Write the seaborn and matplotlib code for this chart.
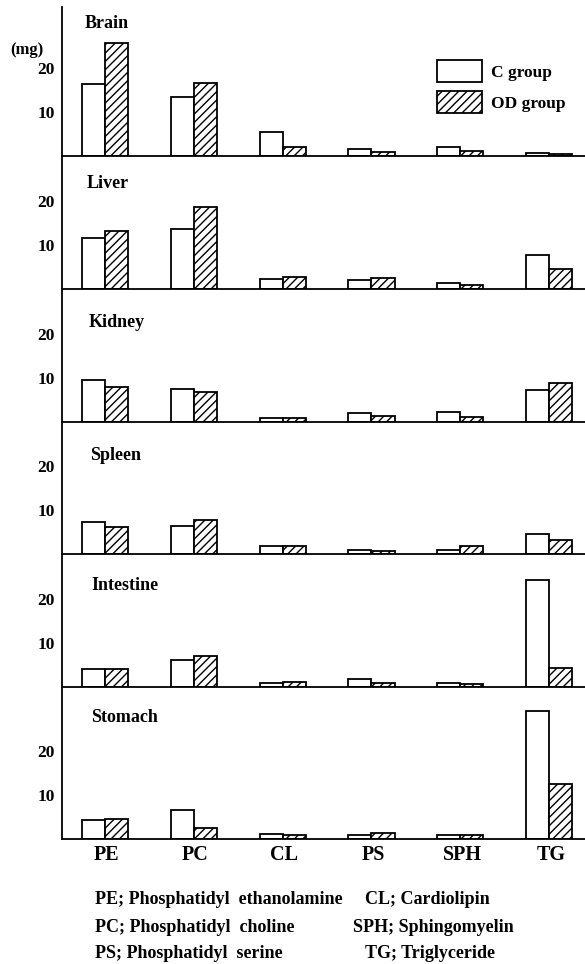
import matplotlib
matplotlib.use("Agg")
import matplotlib.pyplot as plt
from matplotlib.patches import Patch
import seaborn as sns
import pandas as pd

# Lipid classes and groups
lipids = ["PE", "PC", "CL", "PS", "SPH", "TG"]
groups = ["C group", "OD group"]
organs = ["Brain", "Liver", "Kidney", "Spleen", "Intestine", "Stomach"]

# Lipid content (mg) per organ, control vs OD group
brain_c = [16.3, 13.3, 5.5, 1.5, 2.1, 0.7]
brain_od = [25.5, 16.5, 2.0, 0.8, 1.1, 0.5]
liver_c = [11.5, 13.6, 2.2, 2.0, 1.4, 7.7]
liver_od = [13.2, 18.6, 2.8, 2.4, 1.0, 4.5]
kidney_c = [9.5, 7.5, 1.0, 2.1, 2.2, 7.3]
kidney_od = [7.9, 6.9, 0.8, 1.3, 1.1, 8.9]
spleen_c = [7.2, 6.4, 1.8, 0.9, 0.9, 4.5]
spleen_od = [6.0, 7.6, 1.7, 0.6, 1.8, 3.1]
intestine_c = [4.1, 6.0, 0.8, 1.7, 0.9, 24.2]
intestine_od = [4.0, 7.0, 1.2, 0.8, 0.6, 4.4]
stomach_c = [4.4, 6.5, 1.1, 0.9, 1.0, 29.0]
stomach_od = [4.6, 2.5, 0.9, 1.4, 1.0, 12.4]

values = {
    "Brain": (brain_c, brain_od),
    "Liver": (liver_c, liver_od),
    "Kidney": (kidney_c, kidney_od),
    "Spleen": (spleen_c, spleen_od),
    "Intestine": (intestine_c, intestine_od),
    "Stomach": (stomach_c, stomach_od),
}

footnotes = [
    ("PE; Phosphatidyl  ethanolamine", "CL; Cardiolipin"),
    ("PC; Phosphatidyl  choline", "SPH; Sphingomyelin"),
    ("PS; Phosphatidyl  serine", "TG; Triglyceride"),
]

rows = []
for organ in organs:
    c_vals, od_vals = values[organ]
    for lip, cv, ov in zip(lipids, c_vals, od_vals):
        rows.append({"organ": organ, "lipid": lip, "group": groups[0], "value": cv})
        rows.append({"organ": organ, "lipid": lip, "group": groups[1], "value": ov})
df = pd.DataFrame(rows)

sns.set_theme(style="white")
plt.rcParams["font.family"] = ["Liberation Serif", "DejaVu Serif"]
plt.rcParams["font.weight"] = "bold"
plt.rcParams["text.color"] = "black"
plt.rcParams["axes.labelcolor"] = "black"
plt.rcParams["xtick.color"] = "black"
plt.rcParams["ytick.color"] = "black"
plt.rcParams["hatch.linewidth"] = 1.0
plt.rcParams["hatch.color"] = "black"

W, H = 585, 964
fig = plt.figure(figsize=(W / 100, H / 100), dpi=100)
fig.patch.set_facecolor("white")

# panel extents in pixels (top, bottom) and title anchor
panels = [
    ("Brain", 7, 156, 85, 23),
    ("Liver", 156, 289, 87, 183),
    ("Kidney", 289, 422, 89, 323),
    ("Spleen", 422, 554, 90, 455),
    ("Intestine", 554, 687, 91, 586),
    ("Stomach", 687, 839, 91, 718),
]
px_per_mg = 4.42
x_left, x_right = 62, 585
x_lim = (-0.484, 5.405)

for i, (organ, top, bottom, tx, ty) in enumerate(panels):
    ax = fig.add_axes([x_left / W, 1 - bottom / H, (x_right - x_left) / W, (bottom - top) / H])
    sub = df[df.organ == organ]
    sns.barplot(data=sub, x="lipid", y="value", hue="group", order=lipids,
                hue_order=groups, palette=["white", "white"], saturation=1,
                edgecolor="black", linewidth=1.3, width=0.52, errorbar=None,
                legend=False, ax=ax)
    for bar in ax.containers[1]:
        bar.set_hatch("////")
    ax.set_xlim(*x_lim)
    ax.set_ylim(0, (bottom - top) / px_per_mg)
    ax.set_facecolor("none")
    ax.set_xlabel("")
    ax.set_ylabel("")
    ax.set_yticks([10, 20])
    ax.set_yticklabels(["10", "20"], fontsize=12.5, fontweight="bold")
    ax.tick_params(axis="y", direction="out", length=3, width=1.0, pad=2, colors="black")
    for s in ["top", "right"]:
        ax.spines[s].set_visible(False)
    ax.spines["left"].set_color("black")
    ax.spines["left"].set_linewidth(1.3)
    ax.spines["bottom"].set_color("black")
    ax.spines["bottom"].set_linewidth(1.3)
    if i < len(panels) - 1:
        ax.set_xticks(range(len(lipids)))
        ax.tick_params(axis="x", length=0, labelbottom=False)
    else:
        ax.set_xticks([k + 0.02 for k in range(len(lipids))])
        ax.set_xticklabels(lipids, fontsize=14.5, fontweight="bold")
        ax.tick_params(axis="x", length=0, pad=4, colors="black")
    fig.text(tx / W, 1 - ty / H, organ, fontsize=13, fontweight="bold",
             ha="left", va="center")

fig.text(10 / W, 1 - 50 / H, "(mg)", fontsize=12, fontweight="bold", ha="left", va="center")

handles = [Patch(facecolor="white", edgecolor="black", linewidth=1.3),
           Patch(facecolor="white", edgecolor="black", linewidth=1.3, hatch="////")]
fig.legend(handles, groups, loc="upper left", bbox_to_anchor=(437 / W, 1 - 60 / H),
           frameon=False, handlelength=2.6, handleheight=1.6,
           handletextpad=0.5, labelspacing=0.5, borderpad=0, borderaxespad=0,
           prop={"weight": "bold", "size": 12.5})

for j, (left, right) in enumerate(footnotes):
    y = 1 - (900 + 27 * j) / H
    fig.text(95 / W, y, left, fontsize=13, fontweight="bold", ha="left", va="center")
    rx = 353 if j == 1 else 365
    fig.text(rx / W, y, right, fontsize=13, fontweight="bold", ha="left", va="center")

fig.savefig("out.png", dpi=100, facecolor="white")
